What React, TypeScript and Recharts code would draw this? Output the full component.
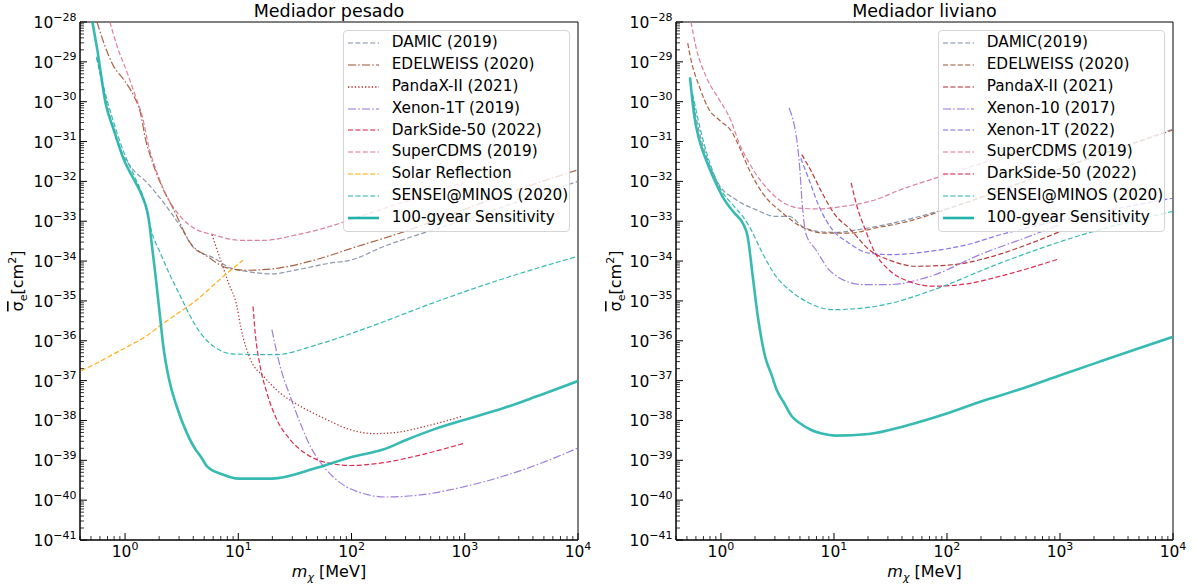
import React from 'react';
import { LineChart, Line, XAxis, YAxis, ReferenceArea, Legend, Label } from 'recharts';

const FONT = '"DejaVu Sans", sans-serif';
type P = [number, number];

// ---------------- Left panel: "Mediador pesado" ----------------
const heavyDamic: P[] = [
  [0.561, 1.35e-29], [0.697, 7.59e-31], [0.913, 6.17e-32], [1.12, 2.34e-32], [1.57, 9.12e-33],
  [2.2, 2.88e-33], [3.08, 7.41e-34], [4.04, 2.14e-34], [6.06, 1.2e-34], [8.5, 6.76e-35],
  [11.9, 5.5e-35], [19.8, 4.79e-35], [32.9, 6.03e-35], [64.6, 8.91e-35], [100, 1.07e-34],
  [190, 2.29e-34], [415, 4.9e-34], [1000, 1.07e-33], [3000, 3.16e-33], [10000, 1.0e-32],
];
const heavyEdelweiss: P[] = [
  [0.565, 1.0e-28], [0.65, 2.95e-29], [0.796, 7.59e-30], [0.976, 3.55e-30], [1.2, 1.35e-30],
  [1.37, 5.13e-31], [1.52, 1.1e-31], [1.68, 4.17e-32], [2.05, 9.12e-33], [2.69, 1.95e-33],
  [3.78, 2.82e-34], [5.3, 1.32e-34], [7.95, 6.76e-35], [11.9, 5.89e-35], [23.4, 6.76e-35],
  [49.3, 1.1e-34], [100, 2.09e-34], [300, 5.62e-34], [1000, 2.0e-33], [3000, 6.31e-33], [10000, 1.95e-32],
];
const heavyPandax: P[] = [
  [5.86, 4.57e-34], [6.94, 1.1e-34], [8.2, 2.82e-35], [9.73, 7.24e-36], [10.5, 2.24e-36],
  [12.8, 3.39e-37], [16.7, 1.29e-37], [23.4, 4.9e-38], [35.2, 2.29e-38], [60.4, 1.05e-38],
  [97, 5.89e-39], [155, 4.68e-39], [234, 4.9e-39], [458, 7.24e-39], [966, 1.29e-38],
];
const heavyXenon1T: P[] = [
  [19.8, 1.91e-36], [23.4, 2.29e-37], [28.7, 4.07e-38], [35.2, 8.71e-39], [43.1, 2.29e-39],
  [56.5, 7.08e-40], [79.2, 2.75e-40], [119, 1.55e-40], [204, 1.2e-40], [376, 1.32e-40],
  [1035, 2.24e-40], [3990, 7.08e-40], [10000, 2.04e-39],
];
const heavyDarkside: P[] = [
  [13.5, 7.24e-36], [14.1, 1.58e-36], [15.6, 2.29e-37], [17.9, 4.9e-38], [21.9, 1.05e-38],
  [28.7, 3.31e-39], [40.3, 1.41e-39], [60.4, 8.71e-40], [97, 7.41e-40], [190, 8.71e-40],
  [376, 1.29e-39], [966, 2.63e-39],
];
const heavySupercdms: P[] = [
  [0.735, 1.0e-28], [0.853, 2.4e-29], [1.05, 5.13e-30], [1.24, 1.35e-30], [1.42, 4.27e-31],
  [1.62, 7.41e-32], [1.92, 1.62e-32], [2.35, 4.17e-33], [3.08, 1.32e-33], [4.04, 6.76e-34],
  [6.06, 4.57e-34], [10.4, 3.31e-34], [16.7, 3.31e-34], [32.9, 4.57e-34], [64.6, 7.41e-34],
  [100, 1.12e-33], [300, 3.16e-33], [1000, 9.55e-33],
];
const heavySolar: P[] = [
  [0.41, 1.78e-37], [0.6, 3.02e-37], [0.82, 4.9e-37], [1.1, 7.59e-37], [1.53, 1.29e-36],
  [2.09, 2.51e-36], [2.7, 4.17e-36], [3.34, 6.31e-36], [4.2, 1.0e-35], [5.3, 1.78e-35],
  [7.4, 4.17e-35], [11, 1.05e-34],
];
const heavySensei: P[] = [
  [0.56, 1.26e-29], [0.7, 1.0e-30], [0.82, 2.24e-31], [1.0, 4.47e-32], [1.2, 1.41e-32],
  [1.47, 3.47e-33], [1.73, 5.01e-34], [2.05, 1.58e-34], [2.52, 4.17e-35], [3.08, 1.32e-35],
  [3.91, 3.39e-36], [4.62, 1.58e-36], [6.06, 7.24e-37], [8.8, 4.68e-37], [21.2, 4.47e-37],
  [49.3, 7.94e-37], [136, 2.09e-36], [525, 8.91e-36], [2040, 3.39e-35], [10000, 1.32e-34],
];
const heavySens100: P[] = [
  [0.515, 1.0e-28], [0.569, 2.0e-29], [0.673, 9.1e-31], [0.796, 1.95e-31], [0.977, 3.47e-32],
  [1.2, 1.1e-32], [1.42, 4.17e-33], [1.62, 1.1e-33], [1.73, 2.34e-34], [1.86, 4.17e-35],
  [2.05, 3.39e-36], [2.18, 7.08e-37], [2.45, 1.05e-37], [2.86, 2.24e-38], [3.47, 5.25e-39],
  [4.22, 1.82e-39], [4.62, 1.29e-39], [5.3, 7.08e-40], [7.18, 4.47e-40], [10.07, 3.47e-40],
  [19.8, 3.47e-40], [49.3, 6.46e-40], [102, 1.23e-39], [190, 1.86e-39], [303, 3.24e-39],
  [525, 5.89e-39], [1035, 1.07e-38], [1950, 1.82e-38], [4270, 3.98e-38], [10000, 9.77e-38],
];

// ---------------- Right panel: "Mediador liviano" ----------------
const lightDamic: P[] = [
  [0.56, 1.26e-30], [0.6, 4.27e-31], [0.763, 3.47e-32], [0.966, 8.13e-33], [1.36, 3.47e-33],
  [2.04, 1.95e-33], [3.06, 1.32e-33], [4.01, 1.32e-33], [5.26, 7.41e-34], [7.38, 5.5e-34],
  [10.4, 5.25e-34], [16.6, 6.17e-34], [32.7, 8.91e-34], [64.5, 1.45e-33], [100, 2.09e-33],
  [1000, 2.09e-32], [10000, 2.04e-31],
];
const lightEdelweiss: P[] = [
  [0.508, 2.95e-29], [0.543, 1.12e-29], [0.643, 2.4e-30], [0.789, 6.17e-31], [0.966, 3.47e-31],
  [1.27, 1.62e-31], [1.45, 7.41e-32], [1.78, 1.95e-32], [2.33, 5.13e-33], [3.5, 1.62e-33],
  [5.26, 7.08e-34], [8.45, 5.01e-34], [13.6, 5.01e-34], [23.3, 6.76e-34], [45.9, 1.0e-33],
  [71, 1.45e-33], [100, 2.0e-33], [1000, 2.09e-32], [10000, 1.95e-31],
];
const lightPandax: P[] = [
  [5.19, 4.68e-32], [6.2, 1.95e-32], [7.89, 5.01e-33], [10, 1.58e-33], [14, 6.17e-34],
  [20.4, 1.95e-34], [32.7, 1.0e-34], [52.6, 7.41e-35], [115, 8.13e-35], [226, 1.2e-34],
  [509, 2.57e-34], [1000, 5.5e-34],
];
const lightXenon10: P[] = [
  [4.01, 6.92e-31], [4.91, 3.47e-32], [5.26, 2.34e-33], [5.62, 5.01e-34], [6.89, 1.95e-34],
  [9.68, 5.01e-35], [17.8, 2.57e-35], [30.6, 2.57e-35], [64.5, 3.8e-35], [211, 1.58e-34],
  [582, 4.57e-34], [1000, 8.32e-34],
];
const lightXenon1T: P[] = [
  [5.08, 3.8e-32], [6.02, 1.1e-32], [7.38, 2.34e-33], [9.68, 6.17e-34], [13.6, 2.82e-34],
  [20.4, 1.58e-34], [32.7, 1.45e-34], [64.5, 1.7e-34], [150, 2.57e-34], [296, 4.57e-34],
  [582, 7.41e-34], [2000, 1.58e-33], [10000, 3.8e-33],
];
const lightSupercdms: P[] = [
  [0.543, 1.0e-28], [0.6, 2.4e-29], [0.738, 4.27e-30], [0.966, 1.12e-30], [1.22, 3.47e-31],
  [1.45, 9.12e-32], [1.78, 2.88e-32], [2.33, 9.12e-33], [3.27, 3.47e-33], [4.91, 2.14e-33],
  [7.38, 2.04e-33], [11.9, 2.34e-33], [23.3, 3.47e-33], [38.8, 6.17e-33], [87.5, 1.32e-32],
  [226, 3.16e-32], [875, 1.0e-31],
];
const lightDarkside: P[] = [
  [14.2, 9.12e-33], [16, 2.34e-33], [18.9, 6.17e-34], [23.2, 1.58e-34], [30.6, 6.03e-35],
  [45.9, 3.09e-35], [76.4, 2.34e-35], [150, 2.69e-35], [296, 4.17e-35], [966, 1.12e-34],
];
const lightSensei: P[] = [
  [0.56, 1.58e-30], [0.7, 1.0e-31], [0.966, 7.41e-33], [1.31, 2.34e-33], [1.56, 1.32e-33],
  [1.78, 7.41e-34], [2.33, 1.58e-34], [3.06, 4.17e-35], [4.01, 1.91e-35], [6.02, 8.91e-36],
  [9.68, 6.03e-36], [17.8, 6.61e-36], [32.7, 8.91e-36], [76.4, 1.91e-35], [296, 8.91e-35],
  [1148, 3.47e-34], [10000, 1.78e-33],
];
const lightSens100: P[] = [
  [0.532, 4.07e-30], [0.581, 4.27e-31], [0.643, 1.1e-31], [0.738, 3.47e-32], [0.873, 1.1e-32],
  [1.07, 3.47e-33], [1.31, 1.62e-33], [1.56, 8.91e-34], [1.72, 4.17e-34], [1.91, 4.17e-35],
  [2.1, 4.9e-36], [2.46, 3.98e-37], [2.8, 1.41e-37], [3.11, 5.89e-38], [3.6, 2.82e-38],
  [4.25, 1.26e-38], [5.0, 8.51e-39], [6.29, 5.75e-39], [7.8, 4.68e-39], [10.3, 4.17e-39],
  [20.3, 4.57e-39], [41.1, 7.08e-39], [101, 1.51e-38], [197, 2.95e-38],
  [430, 5.89e-38], [1020, 1.38e-37], [2060, 2.75e-37], [4500, 5.89e-37], [10000, 1.26e-36],
];

// ---------------- axes ----------------
const X_DOMAIN: [number, number] = [0.4, 10000];
const Y_DOMAIN: [number, number] = [1e-41, 1e-28];
const xDecades = [-1, 0, 1, 2, 3];
const yDecades = [-41, -40, -39, -38, -37, -36, -35, -34, -33, -32, -31, -30, -29, -28];
const mantissas = [1, 2, 3, 4, 5, 6, 7, 8, 9];
const xTicks = xDecades
  .flatMap((e) => mantissas.map((k) => k * Math.pow(10, e)))
  .concat([10000])
  .filter((v) => v >= X_DOMAIN[0] * 0.999 && v <= X_DOMAIN[1] * 1.001);
const yTicks = yDecades
  .flatMap((e) => mantissas.map((k) => k * Math.pow(10, e)))
  .filter((v) => v >= Y_DOMAIN[0] * 0.999 && v <= Y_DOMAIN[1] * 1.001);

const DASH = '5 2.4';
const DASHDOT = '8 2.2 1.6 2.2';
const DOT = '1.3 2.1';

type Series = { name: string; data: P[]; color: string; dash?: string; width: number };

const heavySeries: Series[] = [
  { name: 'DAMIC (2019)', data: heavyDamic, color: '#7d8ca3', dash: DASH, width: 1.2 },
  { name: 'EDELWEISS (2020)', data: heavyEdelweiss, color: '#a0522d', dash: DASHDOT, width: 1.2 },
  { name: 'PandaX-II (2021)', data: heavyPandax, color: '#b22222', dash: DOT, width: 1.3 },
  { name: 'Xenon-1T (2019)', data: heavyXenon1T, color: '#9370db', dash: DASHDOT, width: 1.2 },
  { name: 'DarkSide-50 (2022)', data: heavyDarkside, color: '#dc143c', dash: DASH, width: 1.2 },
  { name: 'SuperCDMS (2019)', data: heavySupercdms, color: '#db7093', dash: DASH, width: 1.2 },
  { name: 'Solar Reflection', data: heavySolar, color: '#ffa500', dash: DASH, width: 1.2 },
  { name: 'SENSEI@MINOS (2020)', data: heavySensei, color: '#20b2aa', dash: DASH, width: 1.2 },
  { name: '100-gyear Sensitivity', data: heavySens100, color: '#20b2aa', width: 2.6 },
];
const lightSeries: Series[] = [
  { name: 'DAMIC(2019)', data: lightDamic, color: '#7d8ca3', dash: DASH, width: 1.2 },
  { name: 'EDELWEISS (2020)', data: lightEdelweiss, color: '#a0522d', dash: DASH, width: 1.2 },
  { name: 'PandaX-II (2021)', data: lightPandax, color: '#b22222', dash: DASH, width: 1.2 },
  { name: 'Xenon-10 (2017)', data: lightXenon10, color: '#9370db', dash: DASHDOT, width: 1.2 },
  { name: 'Xenon-1T (2022)', data: lightXenon1T, color: '#7b68ee', dash: DASH, width: 1.2 },
  { name: 'SuperCDMS (2019)', data: lightSupercdms, color: '#db7093', dash: DASH, width: 1.2 },
  { name: 'DarkSide-50 (2022)', data: lightDarkside, color: '#dc143c', dash: DASH, width: 1.2 },
  { name: 'SENSEI@MINOS (2020)', data: lightSensei, color: '#20b2aa', dash: DASH, width: 1.2 },
  { name: '100-gyear Sensitivity', data: lightSens100, color: '#20b2aa', width: 2.6 },
];

const toRows = (arr: P[]) => arr.map(([m, s]) => ({ m, s }));

const decadeOf = (v: number) => Math.round(Math.log10(v));
const isMajor = (v: number) => Math.abs(v / Math.pow(10, decadeOf(v)) - 1) < 1e-6;
const expText = (v: number) => {
  const e = decadeOf(v);
  return e < 0 ? '\u2212' + String(-e) : String(e);
};

const XTick = (props: any) => {
  const { x, y, payload } = props;
  const v = payload.value as number;
  const major = isMajor(v);
  return (
    <g>
      <line x1={x} x2={x} y1={y} y2={y - (major ? 7 : 4)} stroke="#000" strokeWidth={major ? 1 : 0.8} />
      {major && (
        <text x={x} y={y + 17} textAnchor="middle" fontFamily={FONT} fontSize={15.5} fill="#000">
          10<tspan dy={-7} fontSize={11}>{expText(v)}</tspan>
        </text>
      )}
    </g>
  );
};

const YTick = (props: any) => {
  const { x, y, payload } = props;
  const v = payload.value as number;
  const major = isMajor(v);
  return (
    <g>
      <line x1={x} x2={x + (major ? 7 : 4)} y1={y} y2={y} stroke="#000" strokeWidth={major ? 1 : 0.8} />
      {major && (
        <text x={x - 3.5} y={y + 6} textAnchor="end" fontFamily={FONT} fontSize={15.5} fill="#000">
          10<tspan dy={-7.5} fontSize={11}>{expText(v)}</tspan>
        </text>
      )}
    </g>
  );
};

const LegendBox = ({ series }: { series: Series[] }) => (
  <div
    style={{
      position: 'relative',
      width: 227,
      height: 202,
      boxSizing: 'border-box',
      border: '1px solid #d5d5d5',
      borderRadius: 4,
      background: 'rgba(255,255,255,0.8)',
      fontFamily: FONT,
      fontSize: 15.3,
      color: '#000',
    }}
  >
    {series.map((s, i) => (
      <div
        key={s.name}
        style={{
          position: 'absolute',
          left: 4.3,
          top: 0.7 + i * 21.95,
          height: 21.95,
          display: 'flex',
          alignItems: 'center',
          whiteSpace: 'nowrap',
        }}
      >
        <svg width={31} height={8} style={{ display: 'block' }}>
          <line x1={0} x2={31} y1={4} y2={4} stroke={s.color} strokeWidth={s.width} strokeDasharray={s.dash} />
        </svg>
        <span style={{ marginLeft: 12.4, lineHeight: '21.95px' }}>{s.name}</span>
      </div>
    ))}
  </div>
);

type PanelProps = {
  title: string;
  series: Series[];
  marginLeft: number;
  marginRight: number;
  legendLeft: number;
};

const Panel = ({ title, series, marginLeft, marginRight, legendLeft }: PanelProps) => {
  const W = 600;
  const H = 587;
  const plotLeft = marginLeft + 60;
  const plotRight = W - marginRight;
  const cx = (plotLeft + plotRight) / 2;
  const cy = (22 + 540) / 2;
  return (
    <LineChart width={W} height={H} margin={{ top: 22, right: marginRight, bottom: 17, left: marginLeft }}>
      <XAxis
        dataKey="m"
        type="number"
        scale="log"
        domain={X_DOMAIN}
        allowDataOverflow
        ticks={xTicks}
        interval={0}
        tick={<XTick />}
        tickSize={0}
        tickMargin={0}
        tickLine={false}
        axisLine={{ stroke: '#000', strokeWidth: 1 }}
        height={30}
      >
        <Label
          content={() => (
            <text x={cx} y={577} textAnchor="middle" fontFamily={FONT} fontSize={16} fill="#000">
              <tspan fontStyle="italic">m</tspan>
              <tspan fontStyle="italic" fontSize={11} dy={4}>χ</tspan>
              <tspan dy={-4}> [MeV]</tspan>
            </text>
          )}
        />
        <Label
          content={() => (
            <text x={cx} y={17} textAnchor="middle" fontFamily={FONT} fontSize={17.5} fill="#000">
              {title}
            </text>
          )}
        />
      </XAxis>
      <YAxis
        type="number"
        scale="log"
        domain={Y_DOMAIN}
        allowDataOverflow
        ticks={yTicks}
        interval={0}
        tick={<YTick />}
        tickSize={0}
        tickMargin={0}
        tickLine={false}
        axisLine={{ stroke: '#000', strokeWidth: 1 }}
        width={60}
      >
        <Label
          content={() => (
            <text
              x={23}
              y={cy}
              transform={`rotate(-90 23 ${cy})`}
              textAnchor="middle"
              fontFamily={FONT}
              fontSize={16}
              fill="#000"
            >
              <tspan style={{ textDecoration: 'overline' }}>σ</tspan>
              <tspan fontSize={11} dy={4}>e</tspan>
              <tspan dy={-4}>[cm</tspan>
              <tspan fontSize={11} dy={-7}>2</tspan>
              <tspan dy={7}>]</tspan>
            </text>
          )}
        />
      </YAxis>
      <ReferenceArea
        x1={X_DOMAIN[0]}
        x2={X_DOMAIN[1]}
        y1={Y_DOMAIN[0]}
        y2={Y_DOMAIN[1]}
        fill="none"
        fillOpacity={0}
        stroke="#000"
        strokeWidth={1}
        ifOverflow="visible"
      />
      {series.map((s) => (
        <Line
          key={s.name}
          name={s.name}
          data={toRows(s.data)}
          dataKey="s"
          type="monotone"
          stroke={s.color}
          strokeWidth={s.width}
          strokeDasharray={s.dash}
          strokeOpacity={0.9}
          strokeLinejoin="round"
          dot={false}
          activeDot={false}
          isAnimationActive={false}
        />
      ))}
      <Legend
        layout="vertical"
        align="center"
        verticalAlign="middle"
        content={() => <LegendBox series={series} />}
        wrapperStyle={{ left: legendLeft, top: 30, width: 227, height: 202 }}
      />
    </LineChart>
  );
};

export default function App() {
  return (
    <div style={{ position: 'absolute', left: 0, top: 0, width: 1198, height: 587, background: '#fff', fontFamily: FONT }}>
      <div style={{ position: 'absolute', left: 0, top: 0 }}>
        <Panel title="Mediador pesado" series={heavySeries} marginLeft={20} marginRight={22} legendLeft={343} />
      </div>
      <div style={{ position: 'absolute', left: 598, top: 0 }}>
        <Panel title="Mediador liviano" series={lightSeries} marginLeft={18} marginRight={25} legendLeft={340} />
      </div>
    </div>
  );
}
